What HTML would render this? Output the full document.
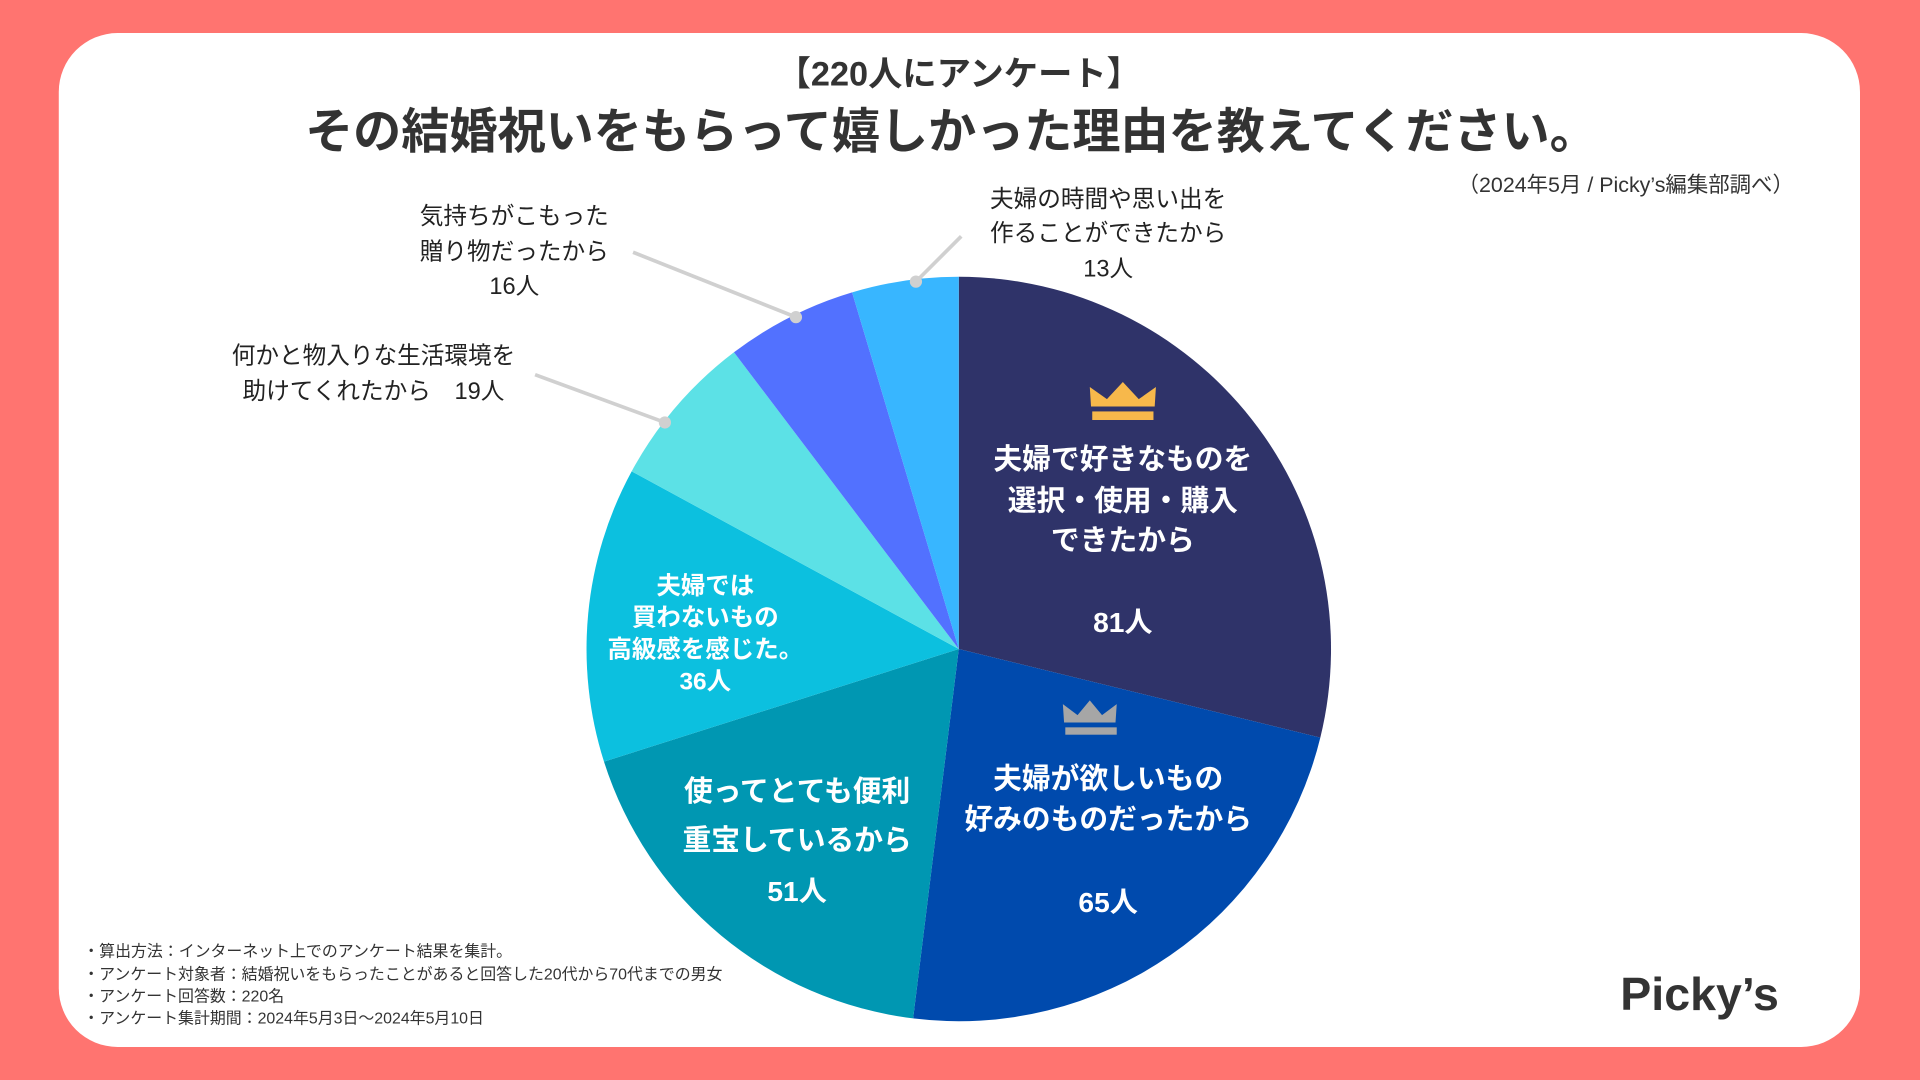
<!DOCTYPE html>
<html><head><meta charset="utf-8"><style>
html,body{margin:0;padding:0;width:1920px;height:1080px;overflow:hidden;background:#ff7470}
svg{display:block}
text{font-family:"Liberation Sans","Noto Sans CJK JP",sans-serif}
</style></head><body>
<svg id="chart" width="1920" height="1080" viewBox="0 0 1568 882">
<rect x="0" y="0" width="1568" height="882" fill="#ff7470"/>
<rect x="48" y="27" width="1471" height="828" rx="48" fill="#ffffff"/>
<text x="783" y="70" text-anchor="middle" font-size="28" font-weight="bold" fill="#333">【220人にアンケート】</text>
<text x="777" y="121" text-anchor="middle" font-size="39.3" font-weight="bold" fill="#333">その結婚祝いをもらって嬉しかった理由を教えてください。</text>
<text x="1465" y="157" text-anchor="end" font-size="17.5" fill="#333">（2024年5月 / Picky’s編集部調べ）</text>
<g id="slices"></g>
<g stroke="#d0d0d0" stroke-width="3" fill="none">
<line x1="748" y1="230" x2="785" y2="193"/><line x1="650" y1="259" x2="517" y2="206"/><line x1="543" y1="345" x2="437" y2="306"/>
</g>
<g fill="#d0d0d0"><circle cx="748" cy="230" r="5"/><circle cx="650" cy="259" r="5"/><circle cx="543" cy="345" r="5"/></g>
<g fill="#f7b84b"><polygon points="891,332 890,316 904,326 917,312 930,326 944,316 943,332"/><rect x="892" y="336" width="50" height="7"/></g>
<g fill="#a6a6a6"><polygon points="869,590 868,575 880,584 890,572 900,584 912,575 911,590"/><rect x="870" y="594" width="42" height="6"/></g>
<g fill="#fff" font-weight="bold" text-anchor="middle">
<text font-size="23.5" x="917" y="383">夫婦で好きなものを</text>
<text font-size="23.5" x="917" y="417">選択・使用・購入</text>
<text font-size="23.5" x="917" y="449">できたから</text>
<text font-size="23" x="917" y="516">81人</text>
<text font-size="23.5" x="905" y="644">夫婦が欲しいもの</text>
<text font-size="23.5" x="905" y="677">好みのものだったから</text>
<text font-size="23" x="905" y="745">65人</text>
<text font-size="23.5" x="651" y="654">使ってとても便利</text>
<text font-size="23.5" x="651" y="694">重宝しているから</text>
<text font-size="23" x="651" y="736">51人</text>
<text font-size="20" x="576" y="485">夫婦では</text>
<text font-size="20" x="576" y="511">買わないもの</text>
<text font-size="20" x="576" y="537">高級感を感じた。</text>
<text font-size="20" x="576" y="563">36人</text>
</g>
<g fill="#222" font-size="19.3" text-anchor="middle">
<text x="905" y="169">夫婦の時間や思い出を</text>
<text x="905" y="197">作ることができたから</text>
<text x="905" y="226">13人</text>
<text x="420" y="183">気持ちがこもった</text>
<text x="420" y="212">贈り物だったから</text>
<text x="420" y="240">16人</text>
<text x="305" y="297">何かと物入りな生活環境を</text>
<text x="305" y="326">助けてくれたから　19人</text>
</g>
<g fill="#333" font-size="13">
<text x="68" y="781">・算出方法：インターネット上でのアンケート結果を集計。</text>
<text x="68" y="800">・アンケート対象者：結婚祝いをもらったことがあると回答した20代から70代までの男女</text>
<text x="68" y="818">・アンケート回答数：220名</text>
<text x="68" y="836">・アンケート集計期間：2024年5月3日〜2024年5月10日</text>
</g>
<text x="1388" y="825" text-anchor="middle" font-size="38" font-weight="bold" fill="#333">Picky’s</text>
</svg>
<script>
const categories=["夫婦で好きなものを選択・使用・購入できたから","夫婦が欲しいもの好みのものだったから","使ってとても便利重宝しているから","夫婦では買わないもの高級感を感じた。","何かと物入りな生活環境を助けてくれたから","気持ちがこもった贈り物だったから","夫婦の時間や思い出を作ることができたから"];
const values=[81,65,51,36,19,16,13];
const colors=["#2f3369","#004aad","#0097b2","#0cc0df","#5ce1e6","#5271ff","#38b6ff"];
const cx=783,cy=530,r=304;
const total=values.reduce((a,b)=>a+b,0);
const g=document.getElementById('slices');
let a0=0;
function pt(a){return [cx+r*Math.sin(a),cy-r*Math.cos(a)];}
values.forEach((v,i)=>{
  const a1=a0+v/total*Math.PI*2;
  const p0=pt(a0),p1=pt(a1);
  const large=(a1-a0)>Math.PI?1:0;
  const p=document.createElementNS('http://www.w3.org/2000/svg','path');
  p.setAttribute('d',`M${cx},${cy}L${p0[0]},${p0[1]}A${r},${r} 0 ${large} 1 ${p1[0]},${p1[1]}Z`);
  p.setAttribute('fill',colors[i]);
  
  
  g.appendChild(p);
  a0=a1;
});
</script>
</body></html>
